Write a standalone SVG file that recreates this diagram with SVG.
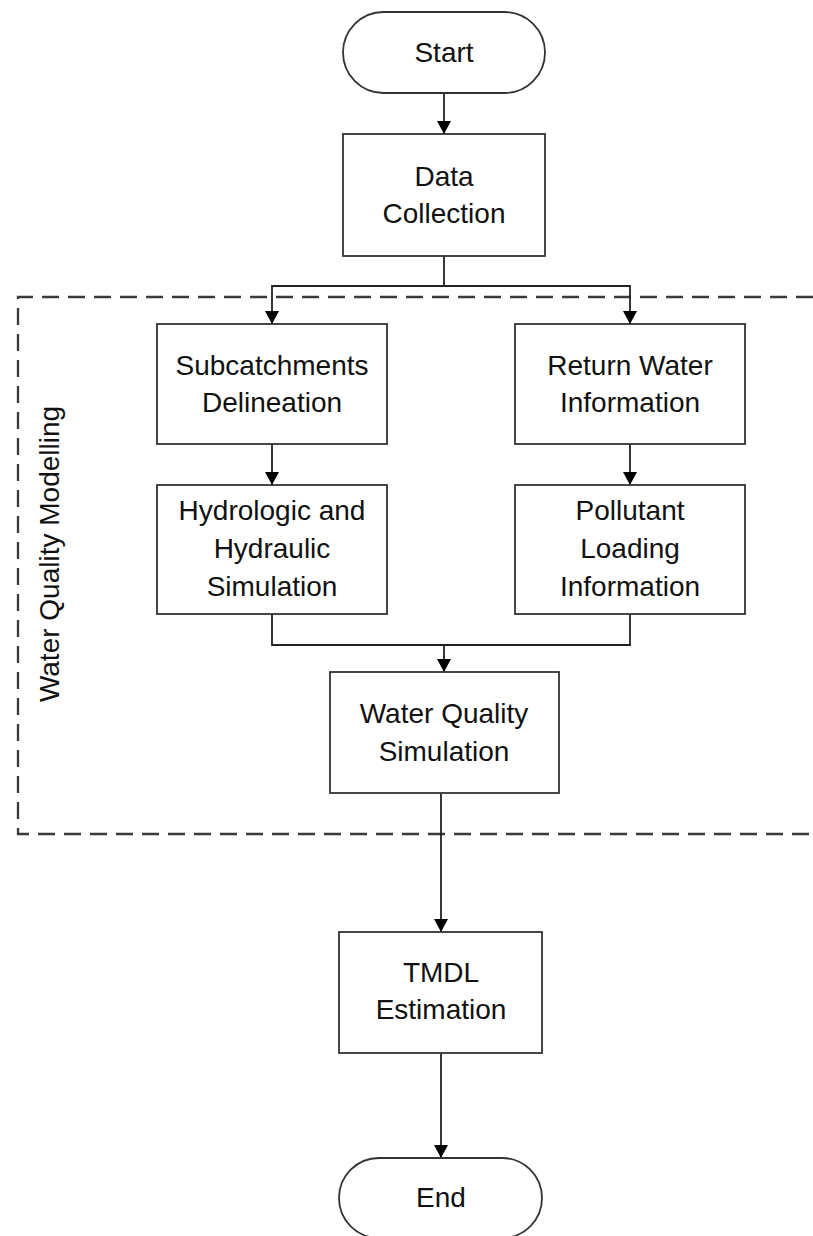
<svg xmlns="http://www.w3.org/2000/svg" width="813" height="1236" viewBox="0 0 813 1236">
  <style>
    .box { fill: #ffffff; stroke: #333333; stroke-width: 1.8; }
    .lbl { font-family: "Liberation Sans", Arial, sans-serif; font-size: 28px; fill: #111111; text-anchor: middle; }
    .con { fill: none; stroke: #222222; stroke-width: 1.8; }
    .grp { fill: none; stroke: #3a3a3a; stroke-width: 2.3; stroke-dasharray: 17 9; }
  </style>
  <defs>
    <marker id="arrow" markerUnits="userSpaceOnUse" markerWidth="13" markerHeight="14" refX="13" refY="7" orient="auto">
      <path d="M0,0 L13,7 L0,14 z" fill="#000000"/>
    </marker>
  </defs>
  <rect width="813" height="1236" fill="#ffffff"/>

  <g id="group-water-quality-modelling">
    <path class="grp" d="M813,297 H18 V834 H813"/>
    <text class="lbl" transform="translate(59,554) rotate(-90)">Water Quality Modelling</text>
  </g>

  <g id="connectors">
    <line class="con" x1="444" y1="93" x2="444" y2="134" marker-end="url(#arrow)"/>
    <polyline class="con" points="444,256 444,286 272,286 272,324" marker-end="url(#arrow)"/>
    <polyline class="con" points="444,286 630,286 630,324" marker-end="url(#arrow)"/>
    <line class="con" x1="272" y1="444" x2="272" y2="485" marker-end="url(#arrow)"/>
    <line class="con" x1="630" y1="444" x2="630" y2="485" marker-end="url(#arrow)"/>
    <polyline class="con" points="272,614 272,645 630,645 630,614"/>
    <line class="con" x1="444" y1="645" x2="444" y2="672" marker-end="url(#arrow)"/>
    <line class="con" x1="441" y1="793" x2="441" y2="932" marker-end="url(#arrow)"/>
    <line class="con" x1="441" y1="1053" x2="441" y2="1158" marker-end="url(#arrow)"/>
  </g>

  <g id="node-start">
    <rect class="box" x="343" y="12" width="202" height="81" rx="40.5"/>
    <text class="lbl" x="444" y="62">Start</text>
  </g>

  <g id="node-data-collection">
    <rect class="box" x="343" y="134" width="202" height="122"/>
    <text class="lbl" x="444" y="186">Data</text>
    <text class="lbl" x="444" y="223">Collection</text>
  </g>

  <g id="node-subcatchments">
    <rect class="box" x="157" y="324" width="230" height="120"/>
    <text class="lbl" x="272" y="375">Subcatchments</text>
    <text class="lbl" x="272" y="412">Delineation</text>
  </g>

  <g id="node-return-water">
    <rect class="box" x="515" y="324" width="230" height="120"/>
    <text class="lbl" x="630" y="375">Return Water</text>
    <text class="lbl" x="630" y="412">Information</text>
  </g>

  <g id="node-hydrologic">
    <rect class="box" x="157" y="485" width="230" height="129"/>
    <text class="lbl" x="272" y="520">Hydrologic and</text>
    <text class="lbl" x="272" y="558">Hydraulic</text>
    <text class="lbl" x="272" y="596">Simulation</text>
  </g>

  <g id="node-pollutant">
    <rect class="box" x="515" y="485" width="230" height="129"/>
    <text class="lbl" x="630" y="520">Pollutant</text>
    <text class="lbl" x="630" y="558">Loading</text>
    <text class="lbl" x="630" y="596">Information</text>
  </g>

  <g id="node-water-quality-simulation">
    <rect class="box" x="330" y="672" width="229" height="121"/>
    <text class="lbl" x="444" y="723">Water Quality</text>
    <text class="lbl" x="444" y="761">Simulation</text>
  </g>

  <g id="node-tmdl">
    <rect class="box" x="339" y="932" width="203" height="121"/>
    <text class="lbl" x="441" y="982">TMDL</text>
    <text class="lbl" x="441" y="1019">Estimation</text>
  </g>

  <g id="node-end">
    <rect class="box" x="339" y="1158" width="203" height="80" rx="40"/>
    <text class="lbl" x="441" y="1207">End</text>
  </g>
</svg>
